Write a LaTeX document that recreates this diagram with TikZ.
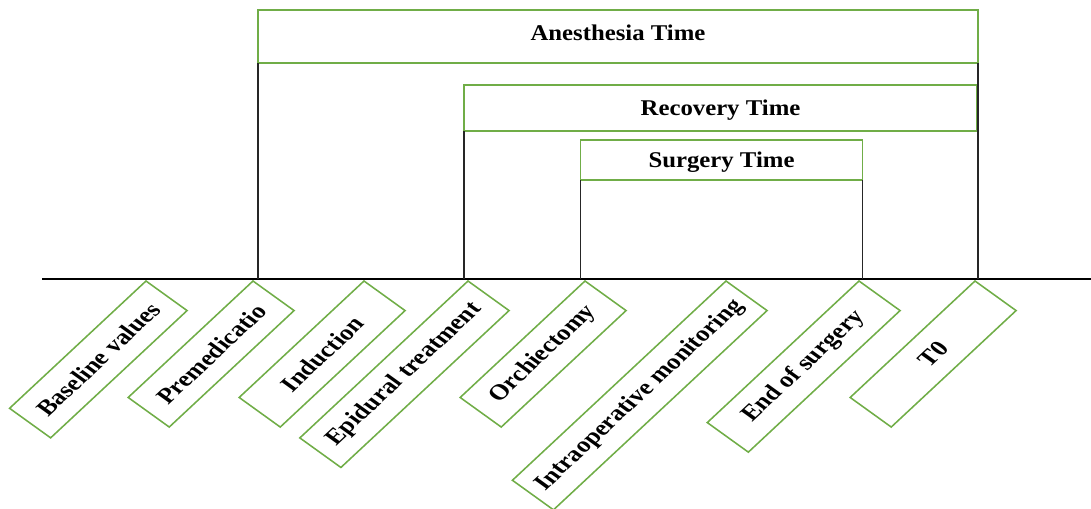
\documentclass[tikz,border=0pt]{standalone}
\usepackage{fontspec}
\setmainfont{Liberation Serif}
\usepackage{xcolor}
\usepackage{tikz}
\usetikzlibrary{positioning, calc}
\definecolor{BoxGreen}{RGB}{112,173,71}
\tikzset{
    % Time span box (upper part)
    timebox/.style={rectangle, draw=BoxGreen, line width=1.1pt, xscale=1.1,
        inner sep=0pt, outer sep=0pt, font=\fontsize{16}{19}\selectfont\bfseries},
    % Tilted step box (below the time line)
    stepbox/.style={rectangle, draw=BoxGreen, line width=1.1pt, xscale=1.22, rotate=48.7,
        minimum width=3.875cm, minimum height=1.12cm, inner sep=0pt, outer sep=0pt,
        anchor=north east, font=\fontsize{15.6}{18}\selectfont\bfseries},
    % Time line
    timeline/.style={line width=1.5pt, black},
    % Span limit line
    spanline/.style={line width=0.9pt, black!85},
}

\begin{document}
\begin{tikzpicture}[x=0.025cm, y=-0.025cm]
    \useasboundingbox (0,0) rectangle (1091,508);
    % time line
    \coordinate (tl0) at (42,279);
    \coordinate (tl1) at (1091,279);
    \draw[timeline] (tl0) -- (tl1);
    % time spans
    \node[timebox, minimum width=16.36cm, minimum height=1.325cm, text depth=5.6pt] (anes) at (618,36.5) {Anesthesia Time};
    \node[timebox, minimum width=11.66cm, minimum height=1.15cm, text depth=0pt] (recov) at (720.5,108) {Recovery Time};
    \node[timebox, minimum width=6.41cm, minimum height=1cm, text depth=0pt] (surg) at (721.5,160) {Surgery Time};
    \draw[spanline] (anes.south west) -- (anes.south west |- tl0);
    \draw[spanline] (anes.south east) -- (anes.south east |- tl0);
    \draw[spanline] (recov.south west) -- (recov.south west |- tl0);
    \draw[spanline] (surg.south west) -- (surg.south west |- tl0);
    \draw[spanline] (surg.south east) -- (surg.south east |- tl0);
    % steps
    \node[stepbox, minimum width=4.235cm] (base) at (146,281) {Baseline values};
    \node[stepbox] (premed) at (253,281) {Premedicatio};
    \node[stepbox] (induct) at (364,281) {Induction};
    \node[stepbox, minimum width=5.22cm] (epid) at (468,281) {Epidural treatment};
    \node[stepbox] (orch) at (585,281) {Orchiectomy};
    \node[stepbox, minimum width=6.63cm] (intra) at (726,281) {Intraoperative monitoring};
    \node[stepbox, minimum width=4.71cm] (endsurg) at (859,281) {End of surgery};
    \node[stepbox] (tzero) at (975,281) {T0};
\end{tikzpicture}
\end{document}
